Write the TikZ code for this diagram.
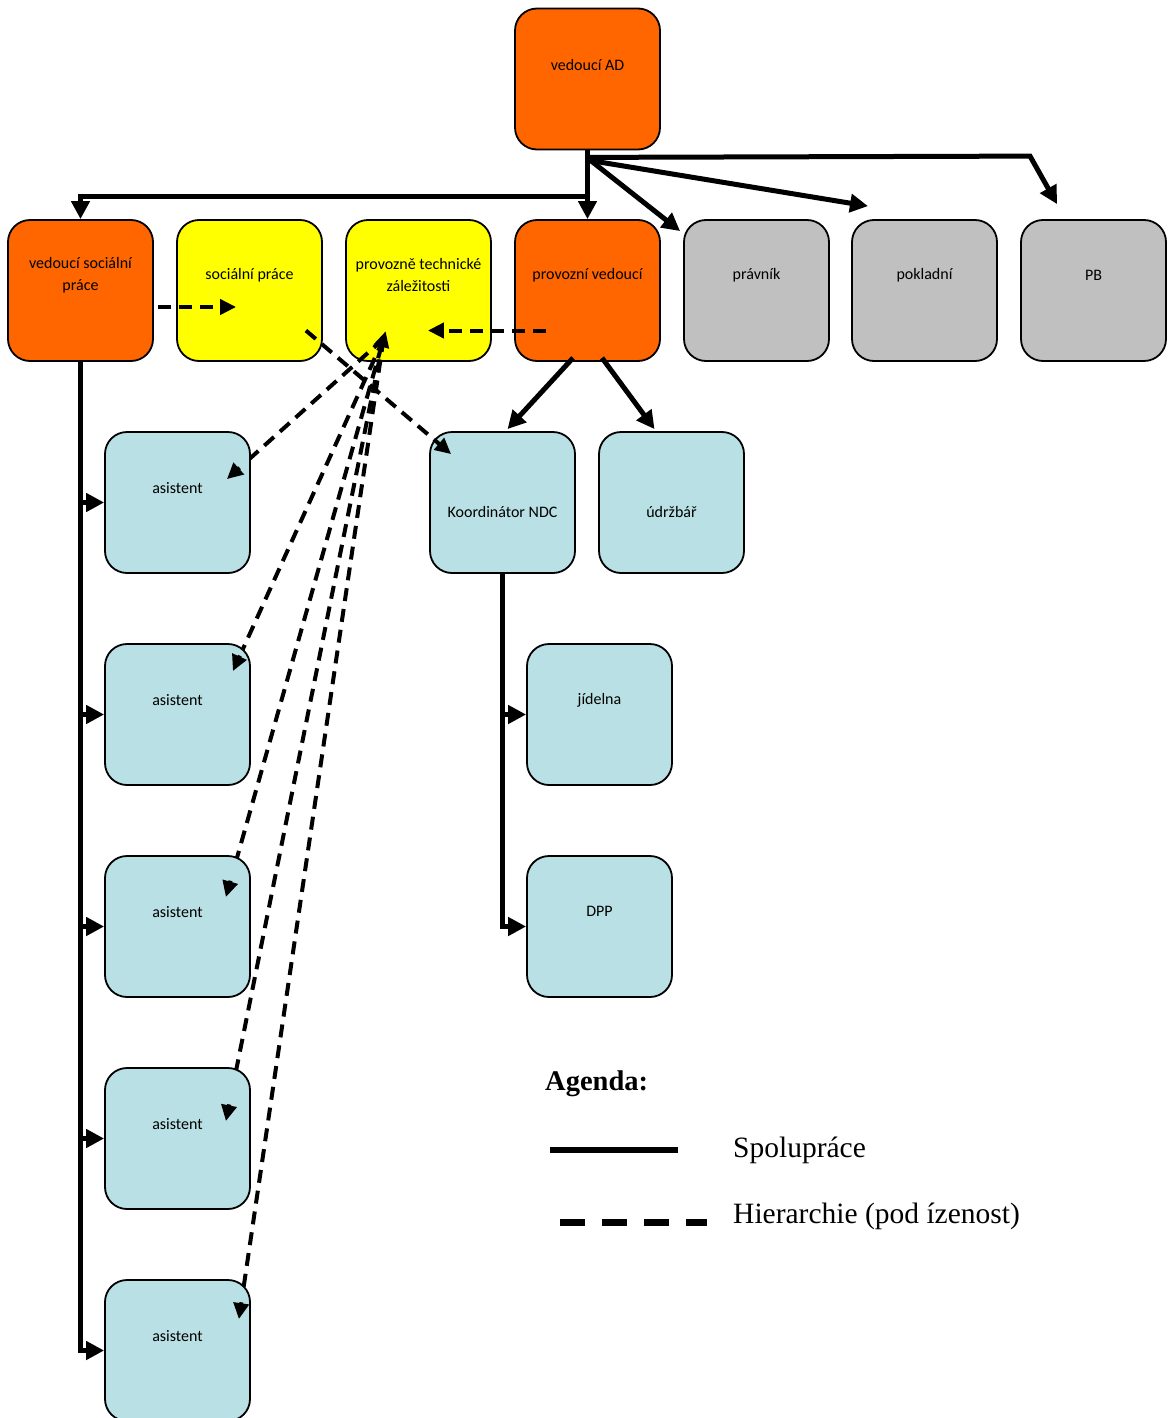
\documentclass[tikz,border=0pt]{standalone}
\usepackage{fontspec}
\setmainfont{Carlito}
\newfontfamily\legendfont{Liberation Serif}
\usetikzlibrary{arrows.meta,calc}
\pgfdeclarelayer{back}\pgfdeclarelayer{mid}\pgfsetlayers{back,mid,main}
\definecolor{orng}{RGB}{255,102,0}
\definecolor{yel}{RGB}{255,255,0}
\definecolor{gry}{RGB}{192,192,192}
\definecolor{lblue}{RGB}{185,224,228}
\begin{document}
\begin{tikzpicture}[x=1pt,y=-1pt,
 box/.style={draw=black,line width=1.8pt,rounded corners=22pt,minimum width=145pt,minimum height=141pt,inner sep=0pt},
 lbl/.style={font=\fontsize{16}{22}\selectfont,align=center,inner sep=0pt},
 solidarrow/.style={line width=5pt,-{Triangle[length=18pt,width=18pt]}},
 dashline/.style={line width=4pt,dash pattern=on 13pt off 8pt},
 dasharrow/.style={dashline,-{Triangle[length=16pt,width=15pt]}},
 tipseg/.style={line width=4pt,-{Triangle[length=16pt,width=15pt]}},
 legendtext/.style={font=\legendfont\fontsize{29.5}{34}\selectfont,anchor=base west,inner sep=0pt}
]
\useasboundingbox (0,0) rectangle (1168,1418);

% boxes
\begin{pgfonlayer}{back}
\node[box,fill=yel] (pt) at (418.5,290.5) {};
\node[lbl] (pt-t) at ($(pt.north)+(0,56)$) {provozně technické\\záležitosti};
\end{pgfonlayer}
\node[box,fill=orng] (ad) at (587.5,79) {};
\node[lbl] (ad-t) at ($(ad.north)+(0,57)$) {vedoucí AD};
\node[box,fill=orng] (vs) at (80.5,290.5) {};
\node[lbl] (vs-t) at ($(vs.north)+(0,56)$) {vedoucí sociální\\práce};
\node[box,fill=yel] (sp) at (249.5,290.5) {};
\node[lbl] (sp-t) at ($(sp.north)+(0,56)$) {sociální práce};
\node[box,fill=orng] (pv) at (587.5,290.5) {};
\node[lbl] (pv-t) at ($(pv.north)+(0,56)$) {provozní vedoucí};
\node[box,fill=gry] (pr) at (756.5,290.5) {};
\node[lbl] (pr-t) at ($(pr.north)+(0,56)$) {právník};
\node[box,fill=gry] (po) at (924.5,290.5) {};
\node[lbl] (po-t) at ($(po.north)+(0,56)$) {pokladní};
\node[box,fill=gry] (pb) at (1093.5,290.5) {};
\node[lbl] (pb-t) at ($(pb.north)+(0,56)$) {PB};

\foreach \i/\yy in {1/502.5,2/714.5,3/926.5,4/1138.5,5/1350.5}{
  \node[box,fill=lblue] (a\i) at (177.5,\yy) {};
  \node[lbl] (a\i-t) at ($(a\i.north)+(0,57)$) {asistent};
}
\node[box,fill=lblue] (ko) at (502.5,502.5) {};
\node[lbl] (ko-t) at ($(ko.north)+(0,81)$) {Koordinátor NDC};
\node[box,fill=lblue] (ud) at (671.5,502.5) {};
\node[lbl] (ud-t) at ($(ud.north)+(0,81)$) {údržbář};
\node[box,fill=lblue] (ji) at (599.5,714.5) {};
\node[lbl] (ji-t) at ($(ji.north)+(0,57)$) {jídelna};
\node[box,fill=lblue] (dpp) at (599.5,926.5) {};
\node[lbl] (dpp-t) at ($(dpp.north)+(0,56)$) {DPP};

% solid connectors
\coordinate (hub) at ($(ad.south)+(0,7)$);
\draw[solidarrow] (ad.south) -- (pv.north);
\draw[solidarrow] (ad.south) -- ++(0,46) -| (vs.north);
\draw[solidarrow] (hub) -- ($(pb.north)+(-63.5,-63)$) -- ($(pb.north)+(-36.5,-15)$);
\draw[solidarrow] ($(hub)+(2,3)$) -- ($(po.north)+(-56.5,-13)$);
\draw[solidarrow] ($(hub)+(3,3)$) -- ($(pr.north west)+(-3,12)$);
\draw[solidarrow] ($(pv.south)+(-14.5,-4)$) -- ($(ko.north)+(5,-2)$);
\draw[solidarrow] ($(pv.south)+(14.5,-4)$) -- ($(ud.north)+(-17,-2)$);
\foreach \i in {1,...,5}{\draw[solidarrow] (vs.south) |- (a\i.west);}
\draw[solidarrow] (ko.south) |- (ji.west);
\draw[solidarrow] (ko.south) |- (dpp.west);

% dashed connectors
\draw[dasharrow] ($(vs.east)+(4,16.5)$) -- ($(sp.west)+(60,16.5)$);
\draw[dasharrow] ($(pv.west)+(32,40)$) -- ($(pt.east)+(-64,40)$);
\draw[dasharrow] ($(sp.east)+(-17,40)$) -- ($(ko.north west)+(22,23)$);

\coordinate (fan) at ($(pt.south)+(-35,-23)$);
\coordinate (t1) at ($(a1.north east)+(-24,48)$);
\coordinate (t2) at ($(a2.north east)+(-18,28)$);
\coordinate (t3) at ($(a3.north east)+(-25,42)$);
\coordinate (t4) at ($(a4.north east)+(-25,54)$);
\coordinate (t5) at ($(a5.north east)+(-12,40)$);
\begin{pgfonlayer}{mid}
\draw[dashline] (fan) -- (t1);
\draw[dashline] (fan) -- (t2);
\draw[dashline,{Triangle[length=16pt,width=15pt]}-] ($(fan)!-8pt!(t3)$) -- (t3);
\draw[dashline] (fan) -- (t4);
\draw[dashline] (fan) -- (t5);
\end{pgfonlayer}
\foreach \i in {1,...,5}{\draw[tipseg] ($(t\i)!17pt!(fan)$) -- (t\i);}

% legend
\node[font=\legendfont\bfseries\fontsize{28.5}{34}\selectfont,anchor=base west,inner sep=0pt] (ag) at (545,1090) {Agenda:};
\coordinate (s1) at (550,1150); \coordinate (s2) at (678,1150);
\draw[line width=6pt] (s1) -- (s2);
\node[legendtext] (spl) at (733,1157) {Spolupráce};
\coordinate (d1) at (560,1222); \coordinate (d2) at (707,1222);
\draw[line width=7pt,dash pattern=on 25pt off 17pt] (d1) -- (d2);
\node[legendtext] (hil) at (733,1223) {Hierarchie (pod ízenost)};
\end{tikzpicture}
\end{document}
